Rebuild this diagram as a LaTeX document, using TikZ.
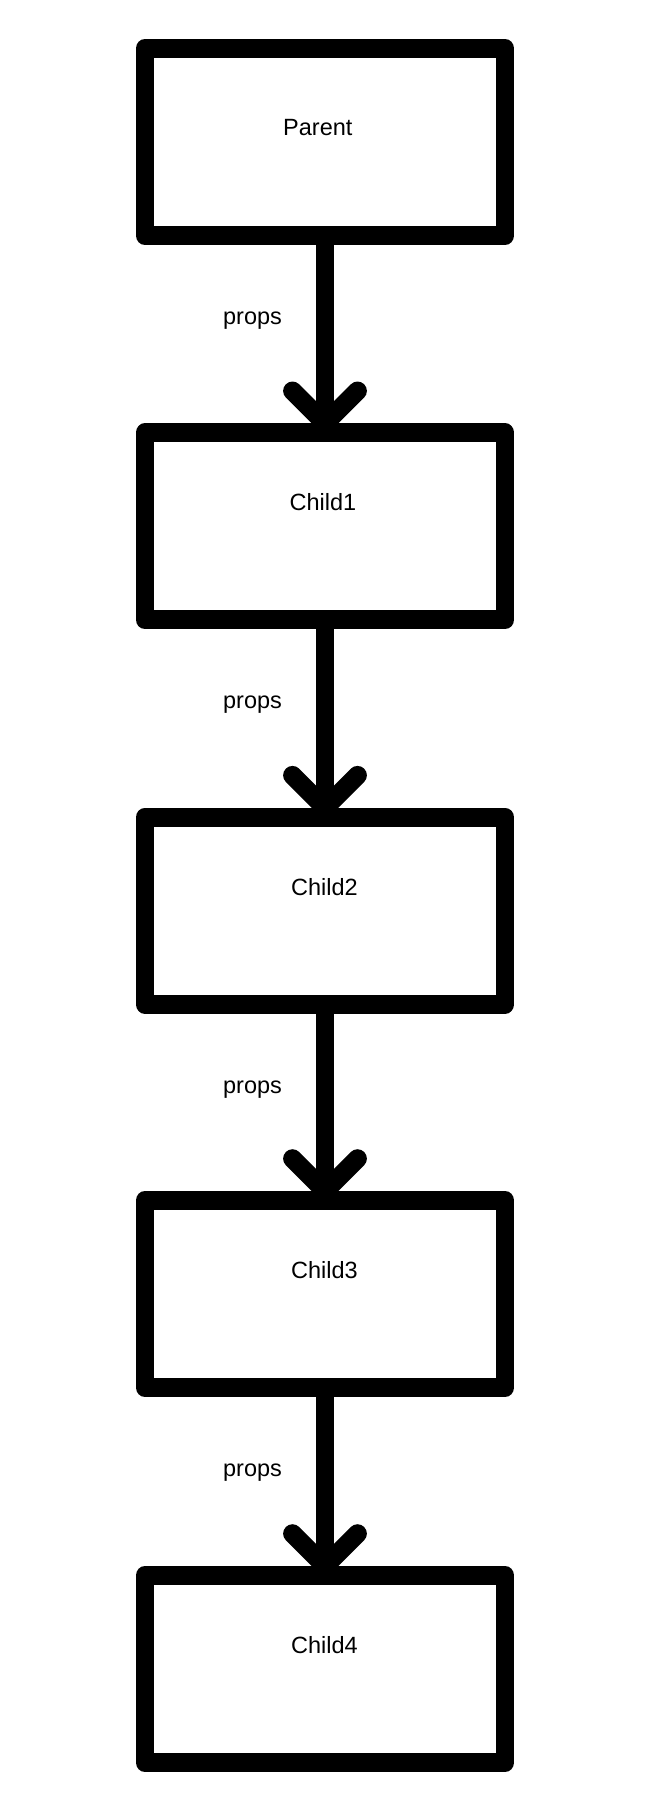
\documentclass[tikz,border=0pt]{standalone}
\usepackage{fontspec}
\setmainfont{Liberation Sans}
\usetikzlibrary{calc}
\tikzset{
  box/.style={draw=black, line width=18.8pt, line join=round, rectangle,
              minimum width=360pt, minimum height=187pt, inner sep=0pt, outer sep=0pt},
  txt/.style={anchor=base, inner sep=0pt, outer sep=0pt, font=\fontsize{23.5}{28}\selectfont},
  shaft/.style={draw=black, line width=18.8pt},
  wing/.style={draw=black, line width=18.8pt, line cap=round, line join=round}
}
\begin{document}
\begin{tikzpicture}[x=1pt, y=-1pt]
\useasboundingbox (0,0) rectangle (665,1808);
% boxes
\node[box] (p)  at (325,142)    {};
\node[box] (c1) at (325,526.3)  {};
\node[box] (c2) at (325,910.7)  {};
\node[box] (c3) at (325,1294)   {};
\node[box] (c4) at (325,1669)   {};
% box texts
\node[txt] (tp)  at ($(p.north)+(-7.2,87.2)$)  {Parent};
\node[txt] (tc1) at ($(c1.north)+(-2,78)$)    {Child1};
\node[txt] (tc2) at ($(c2.north)+(-0.5,78)$)    {Child2};
\node[txt] (tc3) at ($(c3.north)+(-0.5,78)$)    {Child3};
\node[txt] (tc4) at ($(c4.north)+(-0.5,78)$)    {Child4};
% arrow tips at outer top edge of the next box
\coordinate (t1) at ($(c1.north)+(0,-9.4)$);
\coordinate (t2) at ($(c2.north)+(0,-9.4)$);
\coordinate (t3) at ($(c3.north)+(0,-9.4)$);
\coordinate (t4) at ($(c4.north)+(0,-9.4)$);
% connectors
\draw[shaft] (p.south)  -- (t1);
\draw[shaft] (c1.south) -- (t2);
\draw[shaft] (c2.south) -- (t3);
\draw[shaft] (c3.south) -- (t4);
\draw[wing] ($(t1)+(-32.5,-32.5)$) -- (t1) -- ($(t1)+(32.5,-32.5)$);
\draw[wing] ($(t2)+(-32.5,-32.5)$) -- (t2) -- ($(t2)+(32.5,-32.5)$);
\draw[wing] ($(t3)+(-32.5,-32.5)$) -- (t3) -- ($(t3)+(32.5,-32.5)$);
\draw[wing] ($(t4)+(-32.5,-32.5)$) -- (t4) -- ($(t4)+(32.5,-32.5)$);
% labels
\node[txt] (l1) at ($(p.south)+(-72.5,88.8)$)  {props};
\node[txt] (l2) at ($(c1.south)+(-72.5,88.8)$) {props};
\node[txt] (l3) at ($(c2.south)+(-72.5,88.8)$) {props};
\node[txt] (l4) at ($(c3.south)+(-72.5,88.8)$) {props};
\end{tikzpicture}
\end{document}
